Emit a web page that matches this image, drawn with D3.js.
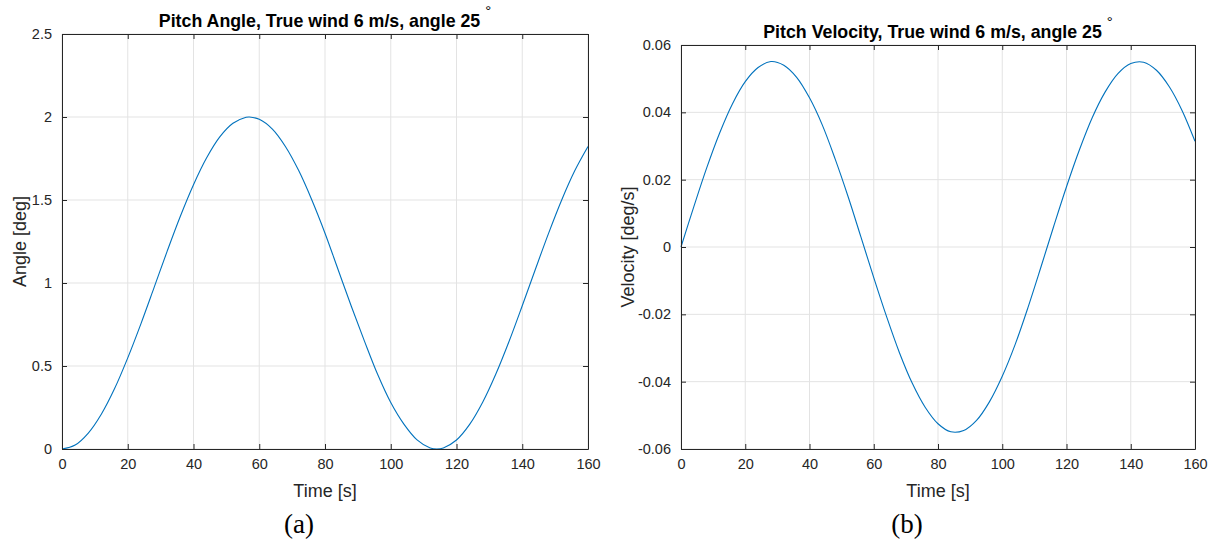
<!DOCTYPE html>
<html><head><meta charset="utf-8">
<script src="https://cdn.jsdelivr.net/npm/d3@7"></script>
<style>body{margin:0;background:#fff}svg{display:block}</style>
</head><body>
<svg id="c" width="1216" height="542"></svg>
<script>
// ---- data ----
const time = [0,4,8,12,16,20,24,28,32,36,40,44,48,52,56,57,60,64,68,72,76,80,84,88,92,96,100,104,108,112,114,116,120,124,128,132,136,140,144,148,152,156,160];
const pitchAngle = [0,0.024,0.096,0.211,0.364,0.549,0.754,0.972,1.192,1.402,1.592,1.754,1.880,1.962,1.998,2.0,1.986,1.927,1.821,1.677,1.5,1.30,1.08,0.86,0.65,0.45,0.28,0.15,0.055,0.006,0,0.006,0.054,0.148,0.283,0.453,0.649,0.863,1.083,1.299,1.5,1.677,1.822];
const timeV = [0,4,8,12,16,20,24,28,32,36,40,44,48,52,56,60,64,68,72,76,80,84,88,92,96,100,104,108,112,116,120,124,128,132,136,140,144,148,152,156,160];
const pitchVelocity = [0,0.0120,0.0235,0.0338,0.0425,0.0491,0.0533,0.0551,0.0540,0.0504,0.0443,0.0362,0.0261,0.0150,0.0030,-0.0091,-0.0207,-0.0314,-0.0405,-0.0476,-0.0525,-0.0549,-0.0545,-0.0515,-0.0460,-0.0384,-0.0290,-0.0180,-0.0061,0.0061,0.0179,0.0288,0.0384,0.0460,0.0515,0.0545,0.0549,0.0525,0.0476,0.0405,0.0314];
const xTicks = [0,20,40,60,80,100,120,140,160];
const angleTicks = [0,0.5,1,1.5,2,2.5];
const angleTickLabels = ["0","0.5","1","1.5","2","2.5"];
const velTicks = [-0.06,-0.04,-0.02,0,0.02,0.04,0.06];
const velTickLabels = ["-0.06","-0.04","-0.02","0","0.02","0.04","0.06"];

const svg = d3.select("#c");
const FONT = "'Liberation Sans', Arial, Helvetica, sans-serif";
const AX = "#262626", GRID = "#e3e3e3", LINE = "#0072BD";

function panel(o){
  const g = svg.append("g");
  const x = d3.scaleLinear().domain([0,160]).range([o.l,o.r]);
  const y = d3.scaleLinear().domain(o.ydom).range([o.b,o.t]);
  // grid
  g.append("g").selectAll("line").data(xTicks).join("line")
    .attr("x1",d=>x(d)).attr("x2",d=>x(d)).attr("y1",o.t).attr("y2",o.b)
    .attr("stroke",GRID).attr("stroke-width",1);
  g.append("g").selectAll("line").data(o.yticks).join("line")
    .attr("y1",d=>y(d)).attr("y2",d=>y(d)).attr("x1",o.l).attr("x2",o.r)
    .attr("stroke",GRID).attr("stroke-width",1);
  // curve
  g.append("path").datum(o.xs.map((t,i)=>[t,o.ys[i]]))
    .attr("fill","none").attr("stroke",LINE).attr("stroke-width",1.1)
    .attr("d",d3.line().x(d=>x(d[0])).y(d=>y(d[1])).curve(d3.curveCatmullRom));
  // axes with inward ticks
  const tk = 5;
  const bottom = d3.axisBottom(x).tickValues(xTicks).tickSizeInner(-tk).tickSizeOuter(0).tickPadding(10).tickFormat(d3.format("d"));
  const top = d3.axisTop(x).tickValues(xTicks).tickSizeInner(-tk).tickSizeOuter(0).tickFormat("");
  const left = d3.axisLeft(y).tickValues(o.yticks).tickSizeInner(-tk).tickSizeOuter(0).tickPadding(10).tickFormat((d,i)=>o.ylabels[i]);
  const right = d3.axisRight(y).tickValues(o.yticks).tickSizeInner(-tk).tickSizeOuter(0).tickFormat("");
  const style = s => { s.select(".domain").attr("stroke",AX).attr("stroke-width",1);
    s.selectAll(".tick line").attr("stroke",AX);
    s.selectAll("text").attr("fill",AX).style("font-family",FONT).style("font-size","14.5px"); };
  g.append("g").attr("transform",`translate(0,${o.b})`).call(bottom).call(style);
  g.append("g").attr("transform",`translate(0,${o.t})`).call(top).call(style);
  g.append("g").attr("transform",`translate(${o.l},0)`).call(left).call(style);
  g.append("g").attr("transform",`translate(${o.r},0)`).call(right).call(style);
  // labels
  const cx = (o.l+o.r)/2;
  g.append("text").attr("x",cx).attr("y",o.b+48).attr("text-anchor","middle")
    .style("font-family",FONT).style("font-size","18px").attr("fill",AX).text("Time [s]");
  g.append("text").attr("transform",`translate(${o.ylx},${(o.t+o.b)/2}) rotate(-90)`).attr("text-anchor","middle")
    .style("font-family",FONT).style("font-size","18px").attr("fill",AX).text(o.ylabel);
  const tt = g.append("text").attr("x",cx).attr("y",o.t-7).attr("text-anchor","middle")
    .style("font-family",FONT).style("font-size","17.8px").style("font-weight","bold").attr("fill","#000");
  tt.append("tspan").text(o.title+"  ");
  tt.append("tspan").attr("dy",-11).style("font-weight","normal").style("font-size","15px").text("\u00b0");
  g.append("text").attr("x",o.capx).attr("y",533).attr("text-anchor","middle")
    .style("font-family","'Liberation Serif','DejaVu Serif',serif").style("font-size","27px").attr("fill","#000").text(o.cap);
}

panel({l:62,r:588,t:34,b:449,ydom:[0,2.5],yticks:angleTicks,ylabels:angleTickLabels,xs:time,ys:pitchAngle,
  ylabel:"Angle [deg]",ylx:26,title:"Pitch Angle, True wind 6 m/s, angle 25",cap:"(a)",capx:299});
panel({l:681,r:1195,t:45,b:449,ydom:[-0.06,0.06],yticks:velTicks,ylabels:velTickLabels,xs:timeV,ys:pitchVelocity,
  ylabel:"Velocity [deg/s]",ylx:634,title:"Pitch Velocity, True wind 6 m/s, angle 25",cap:"(b)",capx:907});
</script>
</body></html>
